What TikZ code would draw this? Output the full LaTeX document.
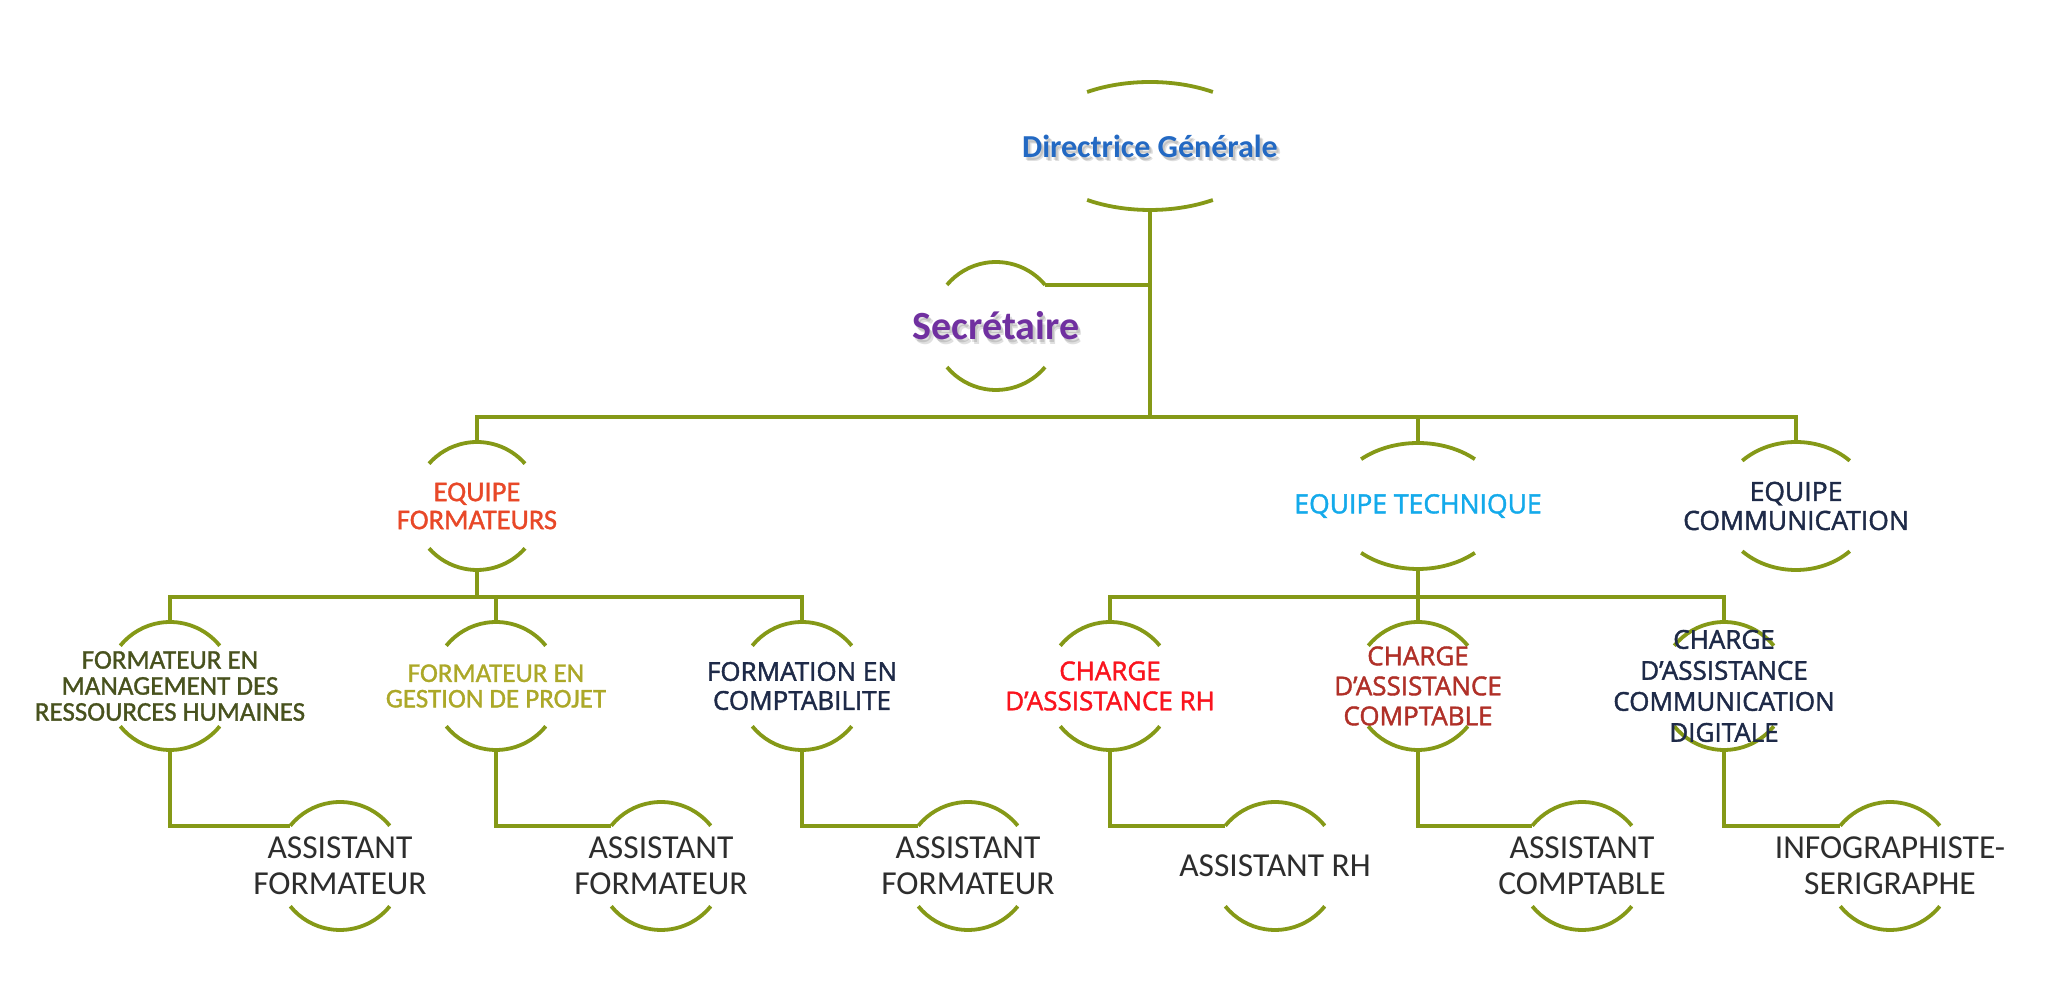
\documentclass[tikz,border=0pt]{standalone}
\usepackage{fontspec}
\setmainfont{Carlito}
\newfontfamily\osans[FakeBold=1.6]{Open Sans}
\newfontfamily\carlsemi[FakeBold=1.2]{Carlito}
\usetikzlibrary{calc}
\definecolor{lineolive}{RGB}{133,153,23}
\definecolor{dgblue}{RGB}{35,105,195}
\definecolor{secpurple}{RGB}{112,48,160}
\definecolor{eqfred}{RGB}{232,72,40}
\definecolor{eqtblue}{RGB}{20,170,235}
\definecolor{navy}{RGB}{30,42,72}
\definecolor{darkolive}{RGB}{72,82,30}
\definecolor{yelolive}{RGB}{172,168,40}
\definecolor{brightred}{RGB}{250,20,30}
\definecolor{darkred}{RGB}{176,48,40}
\definecolor{asgray}{RGB}{45,45,45}
% name, x, y, rx, ry, arc half-angle, style, text
\newcommand\orgshape[8]{%
  \coordinate (#1-c) at (#2,#3);
  \coordinate (#1-t) at (#2,#3+#5);
  \coordinate (#1-b) at (#2,#3-#5);
  \coordinate (#1-l) at ([shift={(180-#6:#4 and #5)}]#1-c);
  \coordinate (#1-r) at ([shift={(#6:#4 and #5)}]#1-c);
  \draw[arcline] (#1-r) arc[start angle=#6, end angle=180-#6, x radius=#4, y radius=#5];
  \draw[arcline] ([shift={(-#6:#4 and #5)}]#1-c) arc[start angle=-#6, end angle=-180+#6, x radius=#4, y radius=#5];
  \node[lbl,#7] (#1) at (#1-c) {#8};
}
\begin{document}
\begin{tikzpicture}[x=1pt,y=1pt,
  arcline/.style={draw=lineolive, line width=3.8pt},
  conn/.style={draw=lineolive, line width=3.8pt, line join=miter},
  lbl/.style={align=center, inner sep=0pt},
  lvlA/.style={font=\carlsemi\fontsize{28.5}{28}\selectfont},
  lvlB/.style={font=\osans\fontsize{26}{29}\selectfont},
  asst/.style={font=\fontsize{33.5}{36}\selectfont, text=asgray},
  shadowtxt/.style={lbl, text=black, opacity=.12},
]
\useasboundingbox (0,0) rectangle (2072,992);
\fill[white] (0,0) rectangle (2072,992);

% soft shadows of the two top titles
\node[shadowtxt, font=\fontsize{32}{36}\selectfont\bfseries] (dgsh1) at (1152,843) {Directrice Générale};
\node[shadowtxt, font=\fontsize{32}{36}\selectfont\bfseries] (dgsh2) at (1153.5,841.5) {Directrice Générale};
\node[shadowtxt, font=\fontsize{40}{44}\selectfont\bfseries] (secsh1) at (998,663) {Secrétaire};
\node[shadowtxt, font=\fontsize{40}{44}\selectfont\bfseries] (secsh2) at (999.5,661.5) {Secrétaire};

% top level
\orgshape{dg}{1150}{846}{117}{64}{57.5}{font=\fontsize{32}{36}\selectfont\bfseries, text=dgblue}{Directrice Générale}
\orgshape{sec}{996}{666}{64}{64}{40}{font=\fontsize{40}{44}\selectfont\bfseries, text=secpurple}{Secrétaire}

% teams
\orgshape{eqf}{477}{486}{64}{64}{41.4}{lvlA, text=eqfred}{EQUIPE\\FORMATEURS}
\orgshape{eqt}{1418}{486}{85}{63}{48}{font=\osans\fontsize{26.5}{29}\selectfont, text=eqtblue}{EQUIPE TECHNIQUE}
\orgshape{eqc}{1796}{486}{76}{64}{45}{font=\osans\fontsize{26.5}{29}\selectfont, text=navy}{EQUIPE\\COMMUNICATION}

% level 3
\orgshape{fr1}{170}{306}{64}{64}{39}{font=\carlsemi\fontsize{27}{26}\selectfont, text=darkolive}{FORMATEUR EN\\MANAGEMENT DES\\RESSOURCES HUMAINES}
\orgshape{fr2}{496}{306}{64}{64}{39}{font=\carlsemi\fontsize{27}{25.5}\selectfont, text=yelolive}{FORMATEUR EN\\GESTION DE PROJET}
\orgshape{fr3}{802}{306}{64}{64}{39}{lvlB, text=navy}{FORMATION EN\\COMPTABILITE}
\orgshape{ct1}{1110}{306}{64}{64}{39}{font=\osans\fontsize{26}{30}\selectfont, text=brightred}{CHARGE\\D’ASSISTANCE RH}
\orgshape{ct2}{1418}{306}{64}{64}{39}{font=\osans\fontsize{26}{30}\selectfont, text=darkred}{CHARGE\\D’ASSISTANCE\\COMPTABLE}
\orgshape{ct3}{1724}{306}{64}{64}{39}{font=\osans\fontsize{26}{31}\selectfont, text=navy}{CHARGE\\D’ASSISTANCE\\COMMUNICATION\\DIGITALE}

% assistants
\orgshape{as1}{340}{126}{64}{64}{39}{asst}{ASSISTANT\\FORMATEUR}
\orgshape{as2}{661}{126}{64}{64}{39}{asst}{ASSISTANT\\FORMATEUR}
\orgshape{as3}{968}{126}{64}{64}{39}{asst}{ASSISTANT\\FORMATEUR}
\orgshape{as4}{1275}{126}{64}{64}{39}{asst}{ASSISTANT RH}
\orgshape{as5}{1582}{126}{64}{64}{39}{asst}{ASSISTANT\\COMPTABLE}
\orgshape{as6}{1890}{126}{64}{64}{39}{asst}{INFOGRAPHISTE-\\SERIGRAPHE}

% bus levels
\coordinate (busA) at (0,575);
\coordinate (busB) at (0,395);

% connectors
\draw[conn] (dg-b) -- (dg-b |- busA);
\draw[conn] (sec-r) -- (sec-r -| dg-b);
\draw[conn] (eqf-t) -- (eqf-t |- busA) -- (eqc-t |- busA) -- (eqc-t);
\draw[conn] (eqt-t) -- (eqt-t |- busA);

\draw[conn] (eqf-b) -- (eqf-b |- busB);
\draw[conn] (fr1-t) -- (fr1-t |- busB) -- (fr3-t |- busB) -- (fr3-t);
\draw[conn] (fr2-t) -- (fr2-t |- busB);

\draw[conn] (eqt-b) -- (ct2-t);
\draw[conn] (ct1-t) -- (ct1-t |- busB) -- (ct3-t |- busB) -- (ct3-t);

\foreach \p/\c in {fr1/as1, fr2/as2, fr3/as3, ct1/as4, ct2/as5, ct3/as6}{
  \draw[conn] (\p-b) -- (\p-b |- \c-l) -- (\c-l);
}
\end{tikzpicture}
\end{document}
